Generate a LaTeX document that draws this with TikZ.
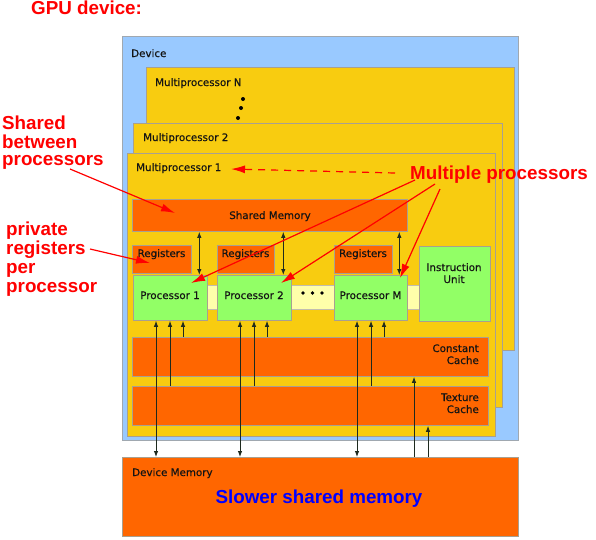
\documentclass[tikz,border=0pt]{standalone}
\usepackage{fontspec}
\setmainfont{DejaVu Sans}
\newfontfamily\lblfont[FakeBold=0.6]{DejaVu Sans}
\newfontfamily\annfont{Liberation Sans}
\usetikzlibrary{arrows.meta}
\definecolor{devblue}{HTML}{99C9FF}
\definecolor{mpyellow}{HTML}{F8CC10}
\definecolor{memorange}{HTML}{FF6600}
\definecolor{procgreen}{HTML}{92FF66}
\definecolor{striplight}{HTML}{FFFFAA}
\definecolor{edgegray}{HTML}{A8A090}
\definecolor{devedge}{HTML}{A0A8B0}
\definecolor{labeldark}{HTML}{141414}
\definecolor{arrowdark}{HTML}{1E2A1E}
\definecolor{annred}{HTML}{FF0000}
\definecolor{annblue}{HTML}{0000FF}
\begin{document}
\begin{tikzpicture}[x=1pt,y=-1pt,
  box/.style={draw=edgegray, line width=0.8pt, inner sep=0pt, anchor=north west},
  lbl/.style={inner sep=0pt, text=labeldark, font=\lblfont\fontsize{10.3}{12}\selectfont},
  ann/.style={inner sep=0pt, text=annred, font=\annfont\bfseries\fontsize{18.8}{19}\selectfont},
  barr/.style={draw=arrowdark, line width=0.9pt, -{Latex[length=6pt,width=4.5pt]}},
  bdbl/.style={draw=arrowdark, line width=0.9pt, {Latex[length=6pt,width=4.5pt]}-{Latex[length=6pt,width=4.5pt]}},
  redarr/.style={draw=annred, line width=1.2pt, -{Latex[length=14pt,width=8pt]}},
  reddash/.style={redarr, dash pattern=on 7pt off 6pt}
]
\useasboundingbox (0,0) rectangle (596,539);

% containers
\node[box, draw=devedge, fill=devblue, minimum width=396pt, minimum height=404pt] (dev) at (122,36) {};
\node[lbl, anchor=base west] (devlbl) at (131,57) {Device};
\node[box, fill=mpyellow, minimum width=368pt, minimum height=283pt] (mpn) at (146,67) {};
\node[lbl, anchor=base west] (mpnlbl) at (155,86) {Multiprocessor N};
\fill[black] (243,99) circle (2pt) (241,108) circle (2pt) (238,118) circle (2pt);
\node[box, fill=mpyellow, minimum width=369pt, minimum height=284pt] (mp2) at (133,123) {};
\node[lbl, anchor=base west] (mp2lbl) at (143,141) {Multiprocessor 2};
\node[box, fill=mpyellow, minimum width=368pt, minimum height=283pt] (mp1) at (127,153) {};
\node[lbl, anchor=base west] (mp1lbl) at (136,171) {Multiprocessor 1};

% shared memory and registers
\node[box, fill=memorange, minimum width=275pt, minimum height=32pt] (sm) at (132,199) {};
\node[lbl, anchor=base] (smlbl) at (270,219) {Shared Memory};
\node[box, fill=memorange, minimum width=59pt, minimum height=28pt] (r1) at (132,245) {};
\node[lbl, anchor=base] (r1lbl) at (161.5,257) {Registers};
\node[box, fill=memorange, minimum width=57pt, minimum height=28pt] (r2) at (217,245) {};
\node[lbl, anchor=base] (r2lbl) at (245.5,257) {Registers};
\node[box, fill=memorange, minimum width=58pt, minimum height=28pt] (r3) at (334,245) {};
\node[lbl, anchor=base] (r3lbl) at (363,257) {Registers};

% processors
\node[box, draw=edgegray!70, fill=striplight, minimum width=286pt, minimum height=24pt] (strip) at (133,285) {};
\node[box, fill=procgreen, minimum width=74pt, minimum height=45pt] (p1) at (133,275) {};
\node[lbl, anchor=base] (p1lbl) at (170,299) {Processor 1};
\node[box, fill=procgreen, minimum width=74pt, minimum height=45pt] (p2) at (217,275) {};
\node[lbl, anchor=base] (p2lbl) at (254,299) {Processor 2};
\node[box, fill=procgreen, minimum width=73pt, minimum height=45pt] (pm) at (334,275) {};
\node[lbl, anchor=base] (pmlbl) at (370.5,299) {Processor M};
\fill[black] (303,293) circle (1.8pt) (312.5,293) circle (1.8pt) (322,293) circle (1.8pt);
\node[box, fill=procgreen, minimum width=71pt, minimum height=75pt] (iu) at (419,246) {};
\node[lbl, anchor=base] (iulbl1) at (454,271) {Instruction};
\node[lbl, anchor=base] (iulbl2) at (454,283) {Unit};

% caches
\node[box, fill=memorange, minimum width=356pt, minimum height=39pt] (cc) at (132,337) {};
\node[lbl, anchor=base east] (cclbl1) at (479,352) {Constant};
\node[lbl, anchor=base east] (cclbl2) at (479,364) {Cache};
\node[box, fill=memorange, minimum width=356pt, minimum height=39pt] (tc) at (132,386) {};
\node[lbl, anchor=base east] (tclbl1) at (479,401) {Texture};
\node[lbl, anchor=base east] (tclbl2) at (479,413) {Cache};

% device memory
\node[box, fill=memorange, minimum width=396pt, minimum height=79pt] (dm) at (122,457) {};
\node[lbl, anchor=base west] (dmlbl) at (132,476) {Device Memory};
\node[inner sep=0pt, text=annblue, font=\annfont\bfseries\fontsize{18.8}{19}\selectfont, anchor=base] (slow) at (319,503) {Slower shared memory};

% black arrows
\foreach \p in {p1,p2,pm}{
  \draw[bdbl] ([xshift=-8.5pt]\p.north east |- sm.south) -- ([xshift=-8.5pt]\p.north east);
  \draw[bdbl] ([xshift=23pt]\p.south west) -- ([xshift=23pt]\p.south west |- dm.north);
  \draw[barr] ([xshift=37pt]\p.south west |- tc.north) -- ([xshift=37pt]\p.south west);
  \draw[barr] ([xshift=50pt]\p.south west |- cc.north) -- ([xshift=50pt]\p.south west);
}
\draw[barr] ([xshift=282pt]cc.south west |- dm.north) -- ([xshift=282pt]cc.south west);
\draw[barr] ([xshift=296pt]tc.south west |- dm.north) -- ([xshift=296pt]tc.south west);

% annotations
\node[ann, anchor=base west] (gpu) at (31,14) {GPU device:};
\node[ann, anchor=base west] (sbp1) at (2,129) {Shared};
\node[ann, anchor=base west] (sbp2) at (2,148) {between};
\node[ann, anchor=base west] (sbp3) at (2,165) {processors};
\node[ann, anchor=base west] (prv1) at (6,235) {private};
\node[ann, anchor=base west] (prv2) at (6,254) {registers};
\node[ann, anchor=base west] (prv3) at (6,273) {per};
\node[ann, anchor=base west] (prv4) at (6,292) {processor};
\node[ann, anchor=base west] (mult) at (410,179) {Multiple processors};

\coordinate (sbpstart) at (70,169);
\coordinate (smtip) at (175,213);
\coordinate (prvstart) at (90,249);
\coordinate (r1tip) at (150,263);
\coordinate (mdash) at (395,173);
\coordinate (mp1tip) at (231,169);
\coordinate (ms1) at (415,180);
\coordinate (ms2) at (435,184);
\coordinate (ms3) at (440,189);
\coordinate (p1tip) at (191,283);
\coordinate (p2tip) at (281,283);
\coordinate (pmtip) at (400,278);

\draw[redarr] (sbpstart) -- (smtip);
\draw[redarr] (prvstart) -- (r1tip);
\draw[reddash] (mdash) -- (mp1tip);
\draw[redarr] (ms1) -- (p1tip);
\draw[redarr] (ms2) -- (p2tip);
\draw[redarr] (ms3) -- (pmtip);
\end{tikzpicture}
\end{document}
